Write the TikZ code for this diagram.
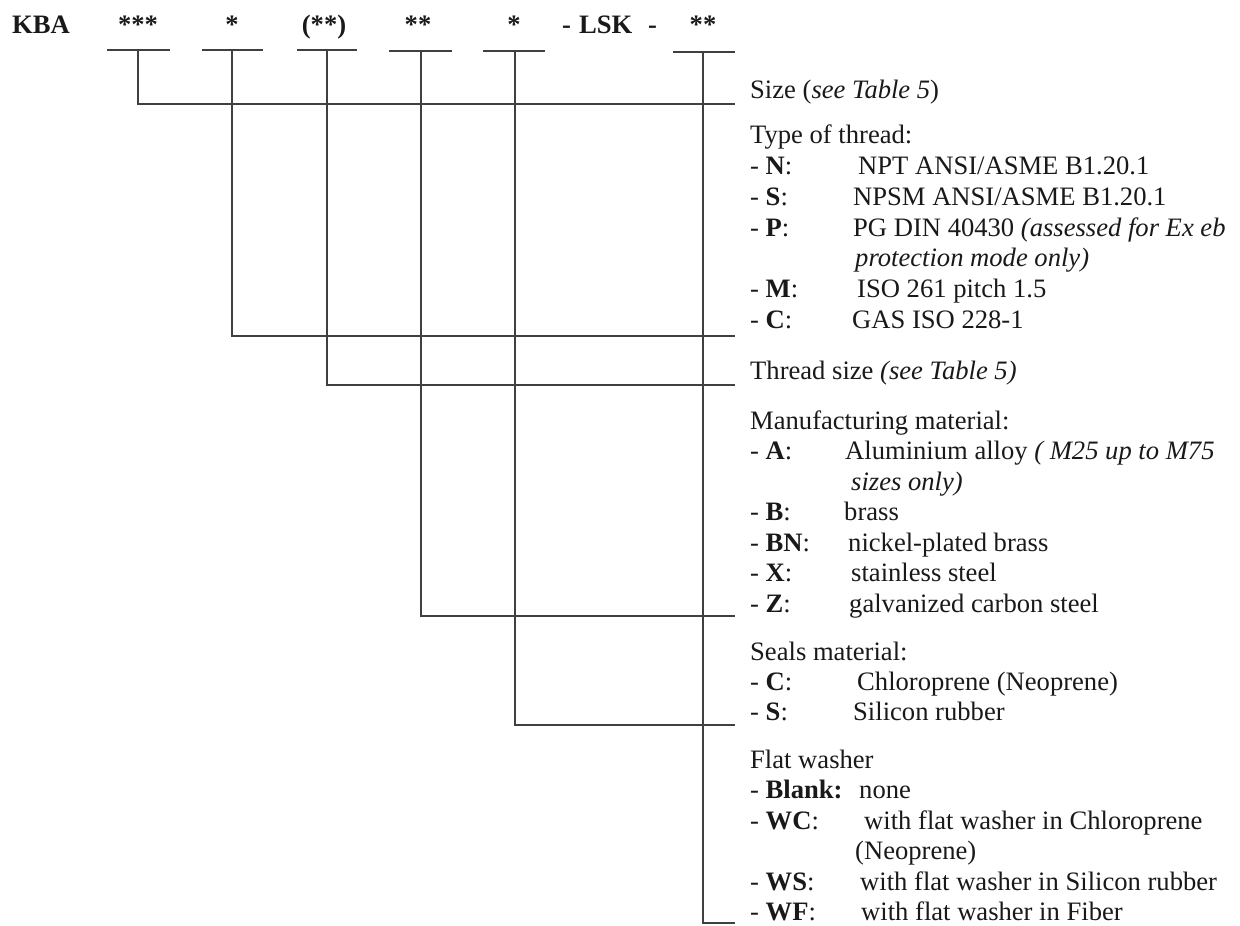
\documentclass[tikz,border=0pt]{standalone}
\usepackage{fontspec}
\setmainfont{Liberation Serif}
\begin{document}
\begin{tikzpicture}[x=1pt,y=-1pt,
  txt/.style={anchor=base west, inner sep=0pt, font=\fontsize{26.6}{30}\selectfont, text=black!90},
  hd/.style={anchor=base, inner sep=0pt, font=\fontsize{26.6}{30}\selectfont\bfseries, text=black!90},
  ln/.style={line width=1.8pt, draw=black!75}]
\useasboundingbox (0,0) rectangle (1240,926);
% ---------- header ----------
\node[hd, anchor=base west] (kba) at (12,33) {KBA};
\node[hd] (h1) at (138,33) {***};
\node[hd] (h2) at (232,33) {*};
\node[hd] (h3) at (324,33) {(**)};
\node[hd] (h4) at (418,33) {**};
\node[hd] (h5) at (514,33) {*};
\node[hd, anchor=base west] (lsk) at (562,33) {-\hspace{0.3em}LSK\hspace{0.6em}-};
\node[hd] (h6) at (703,33) {**};
% ---------- underline coordinates ----------
\coordinate (a1) at (107,50); \coordinate (b1) at (170,50); \coordinate (t1) at (138,50);
\coordinate (a2) at (202,50); \coordinate (b2) at (263,50); \coordinate (t2) at (232,50);
\coordinate (a3) at (297,50); \coordinate (b3) at (357,50); \coordinate (t3) at (327,50);
\coordinate (a4) at (389,51); \coordinate (b4) at (452,51); \coordinate (t4) at (421,51);
\coordinate (a5) at (483,51); \coordinate (b5) at (545,51); \coordinate (t5) at (515,51);
\coordinate (a6) at (673,52); \coordinate (b6) at (735,52); \coordinate (t6) at (703,52);
% branch ends
\coordinate (e1) at (735,104);
\coordinate (e2) at (735,336);
\coordinate (e3) at (735,385);
\coordinate (e4) at (735,616);
\coordinate (e5) at (735,725);
\coordinate (e6) at (735,923);
\foreach \i in {1,...,6} {\draw[ln] (a\i) -- (b\i);}
\foreach \i in {1,...,6} {\draw[ln] (t\i) |- (e\i);}
% ---------- right column ----------
\node[txt] (size) at (750,98) {Size (\textit{see Table 5})};
\node[txt] (type) at (750,143) {Type of thread:};
\node[txt] (lN) at (750,174) {- \textbf{N}:};      \node[txt] (vN) at (858,174) {NPT ANSI/ASME B1.20.1};
\node[txt] (lS) at (750,205) {- \textbf{S}:};      \node[txt] (vS) at (853,205) {NPSM ANSI/ASME B1.20.1};
\node[txt] (lP) at (750,236) {- \textbf{P}:};      \node[txt] (vP) at (853,236) {PG DIN 40430 \textit{(assessed for Ex eb}};
\node[txt] (vP2) at (855,266) {\textit{protection mode only)}};
\node[txt] (lM) at (750,297) {- \textbf{M}:};      \node[txt] (vM) at (857,297) {ISO 261 pitch 1.5};
\node[txt] (lC) at (750,328) {- \textbf{C}:};      \node[txt] (vC) at (852,328) {GAS ISO 228-1};
\node[txt] (tsize) at (750,379) {Thread size \textit{(see Table 5)}};
\node[txt] (manu) at (750,429) {Manufacturing material:};
\node[txt] (lA) at (750,459) {- \textbf{A}:};      \node[txt] (vA) at (845,459) {Aluminium alloy \textit{( M25 up to M75}};
\node[txt] (vA2) at (851,490) {\textit{sizes only)}};
\node[txt] (lB) at (750,520) {- \textbf{B}:};      \node[txt] (vB) at (844,520) {brass};
\node[txt] (lBN) at (750,551) {- \textbf{BN}:};    \node[txt] (vBN) at (848,551) {nickel-plated brass};
\node[txt] (lX) at (750,581) {- \textbf{X}:};      \node[txt] (vX) at (851,581) {stainless steel};
\node[txt] (lZ) at (750,612) {- \textbf{Z}:};      \node[txt] (vZ) at (849,612) {galvanized carbon steel};
\node[txt] (seals) at (750,660) {Seals material:};
\node[txt] (lSC) at (750,690) {- \textbf{C}:};     \node[txt] (vSC) at (857,690) {Chloroprene (Neoprene)};
\node[txt] (lSS) at (750,720) {- \textbf{S}:};     \node[txt] (vSS) at (853,720) {Silicon rubber};
\node[txt] (flat) at (750,768) {Flat washer};
\node[txt] (lBl) at (750,798) {- \textbf{Blank:}};  \node[txt] (vBl) at (859,798) {none};
\node[txt] (lWC) at (750,829) {- \textbf{WC}:};    \node[txt] (vWC) at (864,829) {with flat washer in Chloroprene};
\node[txt] (vWC2) at (855,859) {(Neoprene)};
\node[txt] (lWS) at (750,890) {- \textbf{WS}:};    \node[txt] (vWS) at (860,890) {with flat washer in Silicon rubber};
\node[txt] (lWF) at (750,920) {- \textbf{WF}:};    \node[txt] (vWF) at (861,920) {with flat washer in Fiber};
\end{tikzpicture}
\end{document}
